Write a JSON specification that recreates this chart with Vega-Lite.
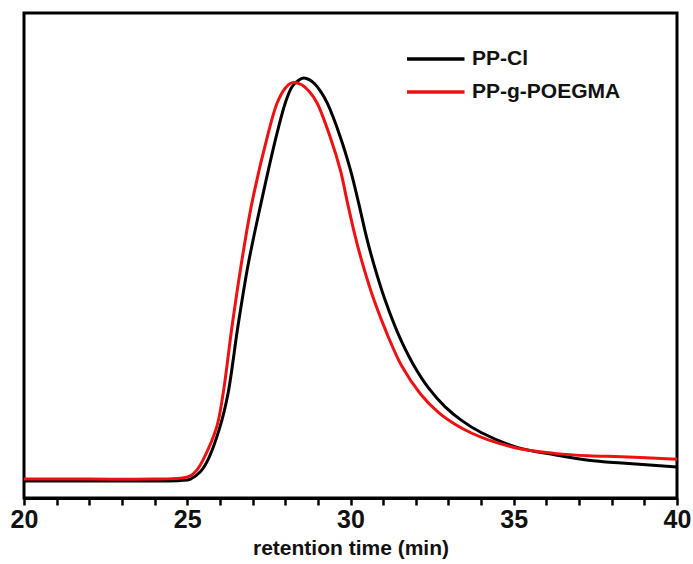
{
  "$schema": "https://vega.github.io/schema/vega-lite/v6.json",
  "width": 653,
  "height": 485,
  "autosize": {"type": "none"},
  "padding": {"left": 24, "top": 13, "right": 16, "bottom": 66},
  "background": "white",
  "config": {
    "view": {"stroke": "#000000", "strokeWidth": 3},
    "font": "Liberation Sans"
  },
  "data": {
    "values": [
      {"t": 20, "v": 0.035, "series": "PP-Cl"},
      {"t": 22, "v": 0.035, "series": "PP-Cl"},
      {"t": 24, "v": 0.035, "series": "PP-Cl"},
      {"t": 24.8, "v": 0.036, "series": "PP-Cl"},
      {"t": 25.1, "v": 0.039, "series": "PP-Cl"},
      {"t": 25.4, "v": 0.054, "series": "PP-Cl"},
      {"t": 25.63, "v": 0.078, "series": "PP-Cl"},
      {"t": 26.0, "v": 0.146, "series": "PP-Cl"},
      {"t": 26.25, "v": 0.216, "series": "PP-Cl"},
      {"t": 26.55, "v": 0.353, "series": "PP-Cl"},
      {"t": 26.87, "v": 0.483, "series": "PP-Cl"},
      {"t": 27.26, "v": 0.608, "series": "PP-Cl"},
      {"t": 27.72, "v": 0.744, "series": "PP-Cl"},
      {"t": 28.0, "v": 0.814, "series": "PP-Cl"},
      {"t": 28.2, "v": 0.847, "series": "PP-Cl"},
      {"t": 28.4, "v": 0.861, "series": "PP-Cl"},
      {"t": 28.57, "v": 0.866, "series": "PP-Cl"},
      {"t": 28.75, "v": 0.862, "series": "PP-Cl"},
      {"t": 28.9, "v": 0.854, "series": "PP-Cl"},
      {"t": 29.1, "v": 0.837, "series": "PP-Cl"},
      {"t": 29.29, "v": 0.814, "series": "PP-Cl"},
      {"t": 29.69, "v": 0.744, "series": "PP-Cl"},
      {"t": 30.0, "v": 0.676, "series": "PP-Cl"},
      {"t": 30.25, "v": 0.608, "series": "PP-Cl"},
      {"t": 30.49, "v": 0.538, "series": "PP-Cl"},
      {"t": 30.74, "v": 0.476, "series": "PP-Cl"},
      {"t": 31.06, "v": 0.408, "series": "PP-Cl"},
      {"t": 31.45, "v": 0.34, "series": "PP-Cl"},
      {"t": 31.91, "v": 0.277, "series": "PP-Cl"},
      {"t": 32.4, "v": 0.226, "series": "PP-Cl"},
      {"t": 32.9, "v": 0.188, "series": "PP-Cl"},
      {"t": 33.4, "v": 0.16, "series": "PP-Cl"},
      {"t": 34.0, "v": 0.135, "series": "PP-Cl"},
      {"t": 35.08, "v": 0.105, "series": "PP-Cl"},
      {"t": 36.25, "v": 0.089, "series": "PP-Cl"},
      {"t": 37.29, "v": 0.078, "series": "PP-Cl"},
      {"t": 38.31, "v": 0.072, "series": "PP-Cl"},
      {"t": 40, "v": 0.064, "series": "PP-Cl"},
      {"t": 20, "v": 0.039, "series": "PP-g-POEGMA"},
      {"t": 22, "v": 0.039, "series": "PP-g-POEGMA"},
      {"t": 24, "v": 0.039, "series": "PP-g-POEGMA"},
      {"t": 24.8, "v": 0.041, "series": "PP-g-POEGMA"},
      {"t": 25.08, "v": 0.045, "series": "PP-g-POEGMA"},
      {"t": 25.3, "v": 0.058, "series": "PP-g-POEGMA"},
      {"t": 25.48, "v": 0.078, "series": "PP-g-POEGMA"},
      {"t": 25.9, "v": 0.146, "series": "PP-g-POEGMA"},
      {"t": 26.1, "v": 0.216, "series": "PP-g-POEGMA"},
      {"t": 26.37, "v": 0.353, "series": "PP-g-POEGMA"},
      {"t": 26.65, "v": 0.48, "series": "PP-g-POEGMA"},
      {"t": 26.98, "v": 0.608, "series": "PP-g-POEGMA"},
      {"t": 27.45, "v": 0.744, "series": "PP-g-POEGMA"},
      {"t": 27.75, "v": 0.814, "series": "PP-g-POEGMA"},
      {"t": 28.0, "v": 0.845, "series": "PP-g-POEGMA"},
      {"t": 28.2, "v": 0.856, "series": "PP-g-POEGMA"},
      {"t": 28.5, "v": 0.852, "series": "PP-g-POEGMA"},
      {"t": 28.75, "v": 0.837, "series": "PP-g-POEGMA"},
      {"t": 28.98, "v": 0.814, "series": "PP-g-POEGMA"},
      {"t": 29.38, "v": 0.744, "series": "PP-g-POEGMA"},
      {"t": 29.69, "v": 0.676, "series": "PP-g-POEGMA"},
      {"t": 29.91, "v": 0.608, "series": "PP-g-POEGMA"},
      {"t": 30.15, "v": 0.538, "series": "PP-g-POEGMA"},
      {"t": 30.4, "v": 0.476, "series": "PP-g-POEGMA"},
      {"t": 30.72, "v": 0.408, "series": "PP-g-POEGMA"},
      {"t": 31.11, "v": 0.34, "series": "PP-g-POEGMA"},
      {"t": 31.57, "v": 0.272, "series": "PP-g-POEGMA"},
      {"t": 32.15, "v": 0.214, "series": "PP-g-POEGMA"},
      {"t": 32.7, "v": 0.176, "series": "PP-g-POEGMA"},
      {"t": 33.2, "v": 0.152, "series": "PP-g-POEGMA"},
      {"t": 33.7, "v": 0.134, "series": "PP-g-POEGMA"},
      {"t": 34.22, "v": 0.12, "series": "PP-g-POEGMA"},
      {"t": 35.23, "v": 0.101, "series": "PP-g-POEGMA"},
      {"t": 36.25, "v": 0.092, "series": "PP-g-POEGMA"},
      {"t": 37.29, "v": 0.087, "series": "PP-g-POEGMA"},
      {"t": 38.31, "v": 0.085, "series": "PP-g-POEGMA"},
      {"t": 40, "v": 0.08, "series": "PP-g-POEGMA"}
    ]
  },
  "mark": {"type": "line", "interpolate": "catmull-rom", "strokeWidth": 3},
  "encoding": {
    "x": {
      "field": "t",
      "type": "quantitative",
      "scale": {"domain": [20, 40], "nice": false},
      "axis": {
        "title": "retention time (min)",
        "titleFont": "Liberation Sans",
        "titleFontSize": 21,
        "titleFontWeight": "bold",
        "titleColor": "#111111",
        "titlePadding": 5,
        "values": [20,21,22,23,24,25,26,27,28,29,30,31,32,33,34,35,36,37,38,39,40],
        "labelExpr": "datum.value % 5 === 0 ? datum.label : ''",
        "labelFont": "Liberation Sans",
        "labelFontSize": 25,
        "labelFontWeight": "bold",
        "labelColor": "#111111",
        "labelPadding": 2,
        "labelFlush": false,
        "labelOverlap": false,
        "grid": false,
        "domain": true,
        "domainColor": "#000000",
        "domainWidth": 3,
        "ticks": true,
        "tickColor": "#000000",
        "tickWidth": 2.5,
        "tickSize": 7
      }
    },
    "y": {
      "field": "v",
      "type": "quantitative",
      "scale": {"domain": [0, 1], "nice": false},
      "axis": null
    },
    "color": {
      "field": "series",
      "type": "nominal",
      "scale": {"domain": ["PP-Cl", "PP-g-POEGMA"], "range": ["#000000", "#ee1111"]},
      "legend": {
        "title": null,
        "orient": "none",
        "legendX": 415.5,
        "legendY": 32.5,
        "padding": 0,
        "symbolType": "M-4,0H1",
        "symbolSize": 529,
        "symbolStrokeWidth": 3.5,
        "labelFont": "Liberation Sans",
        "labelFontSize": 21,
        "labelFontWeight": "bold",
        "labelColor": "#111111",
        "labelOffset": 5.5,
        "rowPadding": 9
      }
    }
  }
}
